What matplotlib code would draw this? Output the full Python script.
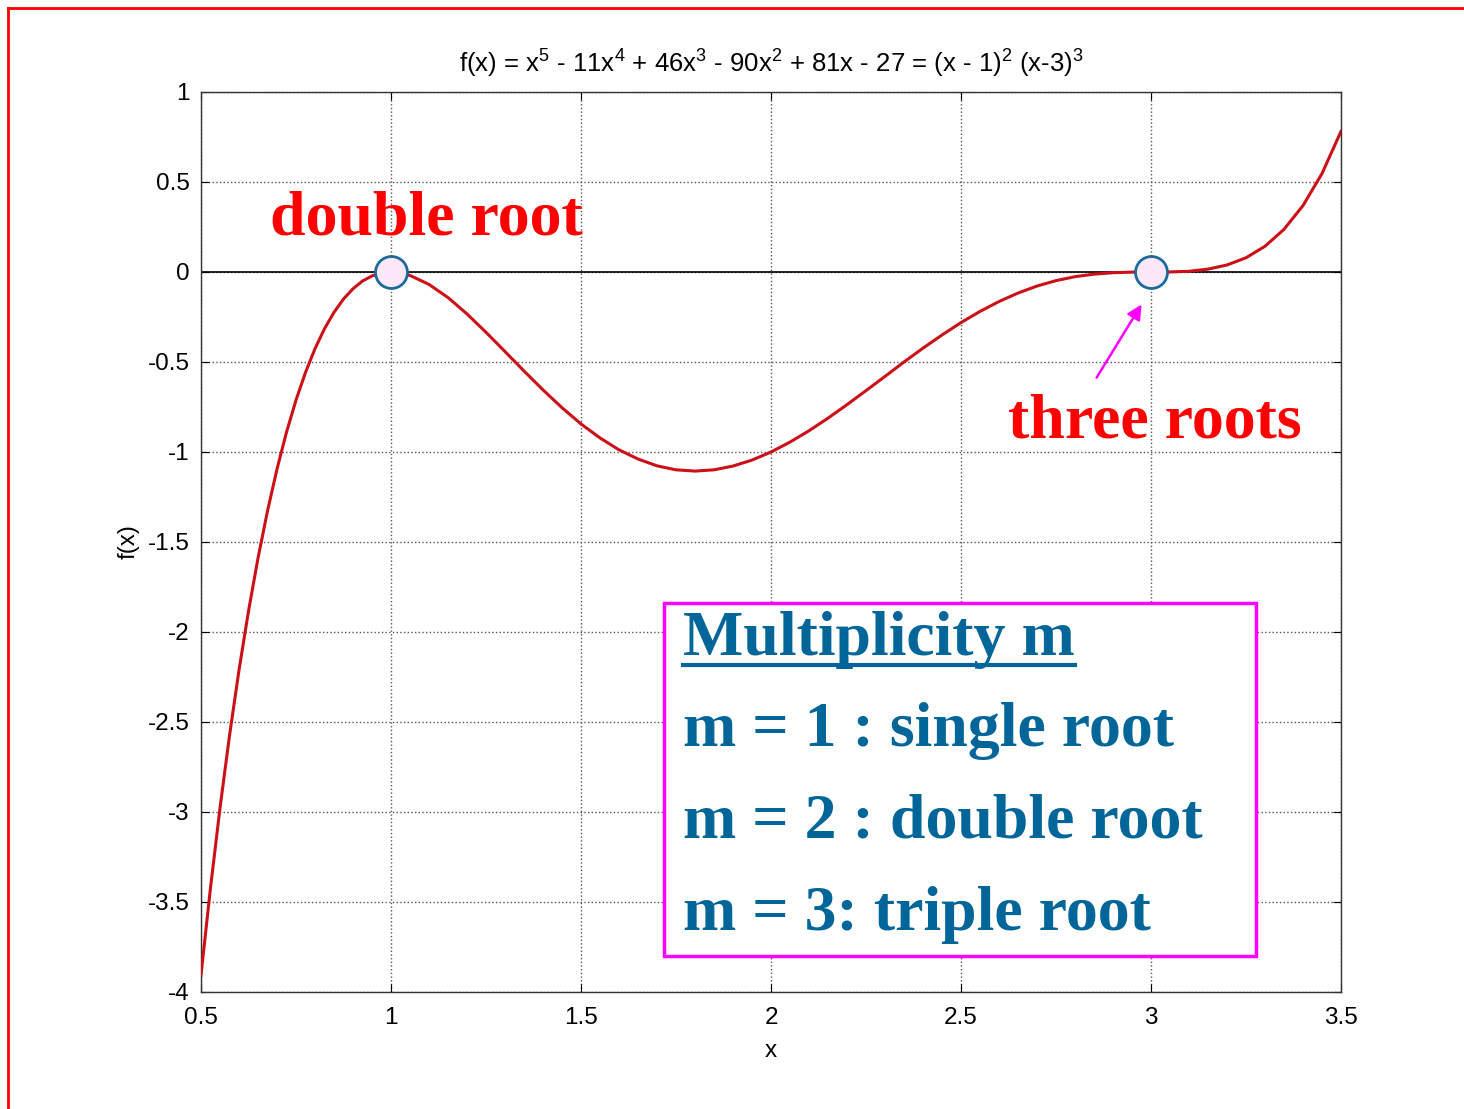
import matplotlib
matplotlib.use('Agg')
import matplotlib.pyplot as plt
from matplotlib.lines import Line2D

plt.rcParams['font.family'] = ['Liberation Sans', 'DejaVu Sans']
plt.rcParams['mathtext.fontset'] = 'custom'
plt.rcParams['mathtext.rm'] = 'Liberation Sans'
plt.rcParams['mathtext.it'] = 'Liberation Sans'

# values
x_vals = [0.5, 0.525, 0.55, 0.575, 0.6, 0.625, 0.65, 0.675, 0.7, 0.725, 0.75, 0.775,
          0.8, 0.825, 0.85, 0.875, 0.9, 0.925, 0.95, 0.975, 1.0, 1.05, 1.1, 1.15, 1.2,
          1.25, 1.3, 1.35, 1.4, 1.45, 1.5, 1.55, 1.6, 1.65, 1.7, 1.75, 1.8, 1.85, 1.9,
          1.95, 2.0, 2.05, 2.1, 2.15, 2.2, 2.25, 2.3, 2.35, 2.4, 2.45, 2.5, 2.55, 2.6,
          2.65, 2.7, 2.75, 2.8, 2.85, 2.9, 2.95, 3.0, 3.05, 3.1, 3.15, 3.2, 3.25, 3.3,
          3.35, 3.4, 3.45, 3.5]
y_vals = [-3.906, -3.421, -2.978, -2.576, -2.212, -1.884, -1.590, -1.328, -1.095, -0.890,
          -0.712, -0.558, -0.426, -0.315, -0.224, -0.150, -0.093, -0.050, -0.022, -0.005,
          0.0, -0.019, -0.069, -0.142, -0.233, -0.335, -0.442, -0.550, -0.655, -0.754,
          -0.844, -0.922, -0.988, -1.039, -1.077, -1.099, -1.106, -1.099, -1.078, -1.045,
          -1.0, -0.945, -0.882, -0.812, -0.737, -0.659, -0.580, -0.500, -0.423, -0.350,
          -0.281, -0.219, -0.164, -0.117, -0.078, -0.048, -0.026, -0.012, -0.004, -0.0005,
          0.0, 0.0005, 0.004, 0.016, 0.039, 0.079, 0.143, 0.237, 0.369, 0.547, 0.781]
root_x = [1, 3]
root_y = [0, 0]
x_ticks = [0.5, 1, 1.5, 2, 2.5, 3, 3.5]
y_ticks = [1, 0.5, 0, -0.5, -1, -1.5, -2, -2.5, -3, -3.5, -4]
box_lines = ['m = 1 : single root', 'm = 2 : double root', 'm = 3: triple root']

W, H = 1464, 1109
fig = plt.figure(figsize=(W / 100, H / 100), dpi=100)

def fx(px):
    return px / W

def fy(py):
    return 1 - py / H

ax = fig.add_axes([fx(201), fy(992), fx(1341) - fx(201), fy(92) - fy(992)])
ax.axhline(0, color='black', lw=1.2, zorder=2)
ax.plot(x_vals, y_vals, color='#cc1018', lw=2.2, zorder=3)
ax.plot(root_x, root_y, 'o', ms=23, mfc='#fce8f8', mec='#1a6a9a', mew=2, zorder=4)

ax.set_xlim(0.5, 3.5)
ax.set_ylim(-4, 1)
ax.set_xticks(x_ticks)
ax.set_yticks(y_ticks)
ax.set_xticklabels([f'{v:g}' for v in x_ticks])
ax.set_yticklabels([f'{v:g}' for v in y_ticks])
ax.tick_params(direction='in', top=True, right=True, labelsize=17.5, length=6, width=0.8)
ax.tick_params(axis='x', pad=11)
ax.tick_params(axis='y', pad=8)
ax.grid(True, linestyle=':', color='#555555', lw=1.0)
for s in ax.spines.values():
    s.set_linewidth(1.0)
    s.set_color('#333333')

ax.set_title('f(x) = x$^5$ - 11x$^4$ + 46x$^3$ - 90x$^2$ + 81x - 27 = (x - 1)$^2$ (x-3)$^3$',
             fontsize=18.5, pad=14)
ax.set_xlabel('x', fontsize=17.5, labelpad=8)
ax.set_ylabel('f(x)', fontsize=17.5, labelpad=6)

serif = ['Liberation Serif', 'DejaVu Serif']
ax.text(0.682, 0.206, 'double root', color='#ff0000', fontsize=46, fontweight='bold',
        family=serif, va='baseline', zorder=5)
ax.text(2.624, -0.922, 'three roots', color='#ff0000', fontsize=46, fontweight='bold',
        family=serif, va='baseline', zorder=5)
ax.annotate('', xy=(2.979, -0.167), xytext=(2.853, -0.6),
            arrowprops=dict(arrowstyle='-|>', color='#ff00ff', lw=1.8, mutation_scale=22))

# multiplicity box
blue = '#006699'
box = plt.Rectangle((fx(664), fy(956)), fx(1256) - fx(664), fy(603) - fy(956),
                    transform=fig.transFigure, fill=True, facecolor='white',
                    edgecolor='#ff00ff', lw=2.5, zorder=10)
fig.add_artist(box)
fig.text(fx(683), fy(655), 'Multiplicity m', color=blue, fontsize=46, fontweight='bold',
         family=serif, va='baseline', zorder=11)
fig.add_artist(Line2D([fx(683), fx(1075)], [fy(665), fy(665)], color=blue, lw=3, zorder=11))
for i, line in enumerate(box_lines):
    fig.text(fx(683), fy(746 + 92 * i), line, color=blue, fontsize=46, fontweight='bold',
             family=serif, va='baseline', zorder=11)

# red slide frame
fig.add_artist(Line2D([fx(8), fx(8)], [fy(8), 0], color='#ff0000', lw=2))
fig.add_artist(Line2D([fx(8), 1], [fy(8), fy(8)], color='#ff0000', lw=2))

fig.savefig('out.png', dpi=100)
